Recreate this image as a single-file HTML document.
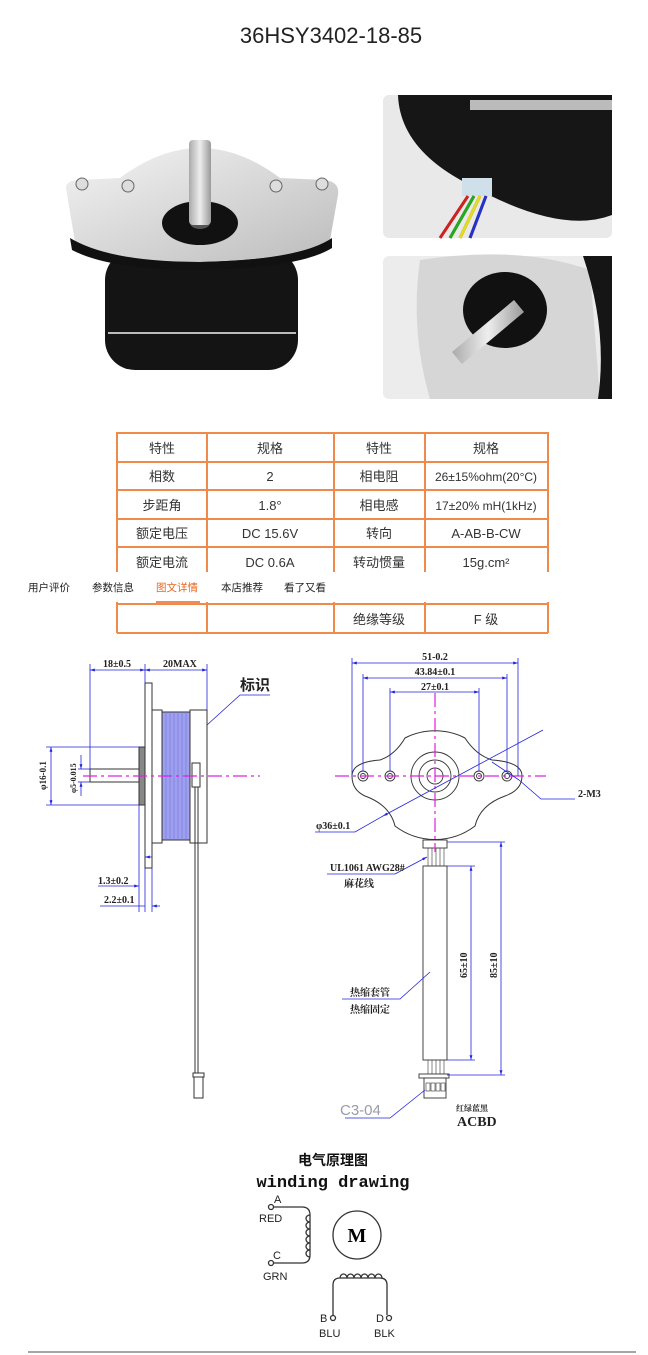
<!DOCTYPE html>
<html><head><meta charset="utf-8"><style>
html,body{margin:0;padding:0;background:#fff;}
svg{display:block;}
.cn{font-family:"Liberation Sans","Noto Sans CJK SC",sans-serif;}
.sf{font-family:"Liberation Serif","Noto Serif CJK SC",serif;}
</style></head><body>
<svg width="648" height="1355" viewBox="0 0 648 1355" xmlns="http://www.w3.org/2000/svg">
<defs>
<linearGradient id="al" x1="0" y1="0" x2="1" y2="1"><stop offset="0" stop-color="#f4f4f4"/><stop offset="0.5" stop-color="#d8d8d8"/><stop offset="1" stop-color="#bcbcbc"/></linearGradient>
<linearGradient id="sh" x1="0" x2="1"><stop offset="0" stop-color="#aaa"/><stop offset="0.5" stop-color="#eee"/><stop offset="1" stop-color="#999"/></linearGradient>
<marker id="ar" viewBox="0 0 10 10" refX="10" refY="5" markerWidth="6" markerHeight="6" orient="auto-start-reverse"><path d="M0,2 L10,5 L0,8z" fill="#2222dd"/></marker>
</defs>
<text x="331" y="43" text-anchor="middle" class="cn" font-size="22" fill="#222">36HSY3402-18-85</text>

<!-- main photo -->
<rect x="105" y="250" width="193" height="120" rx="30" fill="#141414"/>
<line x1="108" y1="333" x2="296" y2="333" stroke="#bbb" stroke-width="2"/>
<path d="M66,188 Q66,180 80,180 L120,178 Q200,118 280,178 L325,180 Q340,182 338,195 L330,240 Q300,260 200,262 Q110,262 75,242 Z" fill="url(#al)"/>
<path d="M70,238 Q110,262 200,262 Q300,260 332,238 L332,248 Q300,268 200,270 Q110,270 72,250 Z" fill="#111"/>
<ellipse cx="200" cy="223" rx="38" ry="22" fill="#111"/>
<ellipse cx="200" cy="223" rx="10" ry="6" fill="#555"/>
<rect x="189" y="140" width="22" height="85" rx="4" fill="url(#sh)"/>
<circle cx="82" cy="184" r="6" fill="#ddd" stroke="#666"/><circle cx="128" cy="186" r="6" fill="#ddd" stroke="#666"/>
<circle cx="276" cy="186" r="6" fill="#ddd" stroke="#666"/><circle cx="322" cy="184" r="6" fill="#ddd" stroke="#666"/>

<!-- side photos -->
<rect x="383" y="95" width="229" height="143" rx="6" fill="#e9e9e9"/>
<path d="M398,95 L612,95 L612,215 Q560,235 470,185 Q400,150 398,95Z" fill="#161616"/>
<path d="M470,100 L612,100 L612,110 L470,110Z" fill="#bbb"/>
<rect x="462" y="178" width="30" height="18" fill="#cfe0ea"/>
<path d="M468,196 L440,238 M474,196 L450,238 M480,196 L460,238 M486,196 L470,238" stroke-width="3" fill="none" stroke="#c22"/>
<path d="M474,196 L450,238" stroke="#2a2" stroke-width="3"/><path d="M480,196 L460,238" stroke="#dd2" stroke-width="3"/><path d="M486,196 L470,238" stroke="#23c" stroke-width="3"/>
<rect x="383" y="256" width="229" height="143" rx="6" fill="#ececec"/>
<path d="M420,260 Q520,245 590,270 L600,399 L430,399 Q410,330 420,260Z" fill="#d6d6d6"/>
<path d="M583,256 L612,256 L612,399 L598,399 Q608,330 583,256Z" fill="#151515"/>
<ellipse cx="505" cy="310" rx="42" ry="38" fill="#111"/>
<path d="M452,352 L514,300 L524,312 L462,364 Z" fill="url(#sh)"/>

<!-- table -->
<g stroke="#f08a4b" stroke-width="2" fill="none">
<rect x="117" y="433" width="431" height="144"/>
<line x1="117" y1="462" x2="548" y2="462"/><line x1="117" y1="490" x2="548" y2="490"/>
<line x1="117" y1="519" x2="548" y2="519"/><line x1="117" y1="547" x2="548" y2="547"/>
<line x1="207" y1="433" x2="207" y2="633"/><line x1="334" y1="433" x2="334" y2="633"/><line x1="425" y1="433" x2="425" y2="633"/>
<line x1="117" y1="577" x2="117" y2="633"/><line x1="548" y1="577" x2="548" y2="633"/>
<line x1="117" y1="604" x2="548" y2="604"/><line x1="117" y1="633" x2="548" y2="633"/>
</g>
<g class="cn" font-size="13" fill="#333" text-anchor="middle">
<text x="162" y="453">特性</text><text x="270" y="453">规格</text><text x="379" y="453">特性</text><text x="486" y="453">规格</text>
<text x="162" y="481">相数</text><text x="270" y="481">2</text><text x="379" y="481">相电阻</text><text x="486" y="481" font-size="12">26±15%ohm(20°C)</text>
<text x="162" y="510">步距角</text><text x="270" y="510">1.8°</text><text x="379" y="510">相电感</text><text x="486" y="510" font-size="12">17±20% mH(1kHz)</text>
<text x="162" y="538">额定电压</text><text x="270" y="538">DC 15.6V</text><text x="379" y="538">转向</text><text x="486" y="538">A-AB-B-CW</text>
<text x="162" y="567">额定电流</text><text x="270" y="567">DC 0.6A</text><text x="379" y="567">转动惯量</text><text x="486" y="567">15g.cm²</text>
<text x="379" y="624">绝缘等级</text><text x="486" y="624">F 级</text>
</g>
<rect x="0" y="572" width="648" height="30" fill="#fff"/>
<g class="cn" font-size="10.5" fill="#222">
<text x="28" y="591">用户评价</text><text x="92" y="591">参数信息</text><text x="156" y="591" fill="#e8651e">图文详情</text><text x="221" y="591">本店推荐</text><text x="284" y="591">看了又看</text>
</g>
<line x1="156" y1="602" x2="200" y2="602" stroke="#e8651e" stroke-width="1.5"/>

<!-- left drawing -->
<g stroke="#333" stroke-width="1" fill="#fff">
<rect x="145" y="683" width="7" height="185"/>
<rect x="139" y="747" width="6" height="58" fill="#888"/>
<rect x="90" y="769" width="49" height="13"/>
<rect x="152" y="710" width="10" height="133"/>
<rect x="162" y="712" width="28" height="128" fill="#9ea0ee"/>
<rect x="190" y="710" width="17" height="133"/>
<rect x="192" y="763" width="8" height="24"/>
<line x1="195" y1="787" x2="195" y2="1073"/><line x1="198" y1="787" x2="198" y2="1073"/>
<rect x="193" y="1073" width="11" height="4"/><rect x="194" y="1077" width="9" height="21"/>
</g>
<g stroke="#7373e0" stroke-width="0.6">
<line x1="166" y1="712" x2="166" y2="840"/><line x1="170" y1="712" x2="170" y2="840"/><line x1="174" y1="712" x2="174" y2="840"/><line x1="178" y1="712" x2="178" y2="840"/><line x1="182" y1="712" x2="182" y2="840"/><line x1="186" y1="712" x2="186" y2="840"/>
</g>
<line x1="83" y1="776" x2="260" y2="776" stroke="#e020e0" stroke-width="1.2" stroke-dasharray="14,4,3,4"/>
<g stroke="#2222dd" stroke-width="0.8" fill="none">
<line x1="90" y1="664" x2="90" y2="769"/><line x1="145" y1="664" x2="145" y2="683"/><line x1="207" y1="664" x2="207" y2="710"/>
<line x1="90" y1="670" x2="145" y2="670" marker-start="url(#ar)" marker-end="url(#ar)"/>
<line x1="145" y1="670" x2="207" y2="670" marker-start="url(#ar)" marker-end="url(#ar)"/>
<polyline points="207,725 240,695 270,695"/>
<line x1="46" y1="747" x2="139" y2="747"/><line x1="46" y1="805" x2="139" y2="805"/>
<line x1="51" y1="747" x2="51" y2="805" marker-start="url(#ar)" marker-end="url(#ar)"/>
<line x1="78" y1="769" x2="90" y2="769"/><line x1="78" y1="782" x2="90" y2="782"/>
<line x1="81" y1="755" x2="81" y2="769" marker-end="url(#ar)"/><line x1="81" y1="796" x2="81" y2="782" marker-end="url(#ar)"/>
<line x1="139" y1="805" x2="139" y2="912"/><line x1="145" y1="868" x2="145" y2="912"/><line x1="152" y1="868" x2="152" y2="912"/>
<line x1="98" y1="886" x2="139" y2="886" marker-end="url(#ar)"/><line x1="152" y1="857" x2="145" y2="857" marker-end="url(#ar)"/>
<line x1="100" y1="906" x2="145" y2="906"/><line x1="160" y1="906" x2="152" y2="906" marker-end="url(#ar)"/>
</g>
<g class="sf" font-size="10" fill="#222" font-weight="bold">
<text x="103" y="667">18±0.5</text><text x="163" y="667">20MAX</text>
<text x="98" y="884">1.3±0.2</text><text x="104" y="903">2.2±0.1</text>
<text transform="translate(46,790) rotate(-90)" font-size="9">φ16-0.1</text>
<text transform="translate(76,793) rotate(-90)" font-size="8">φ5-0.015</text>
</g>
<text x="240" y="690" class="cn" font-size="15" fill="#222" font-weight="bold">标识</text>

<!-- right drawing -->
<path d="M380,760 Q395,755 405,738 A66,66 0 0 1 465,738 Q476,755 492,760 Q522,762 522,776 Q522,790 505,796 Q480,805 475,826 A66,66 0 0 1 395,826 Q390,805 365,796 Q352,790 352,776 Q352,762 380,760Z" fill="#fff" stroke="#333" stroke-width="1"/>
<g fill="#fff" stroke="#333" stroke-width="0.9">
<circle cx="435" cy="776" r="24"/><circle cx="435" cy="776" r="16"/><circle cx="435" cy="776" r="8"/>
<circle cx="363" cy="776" r="5"/><circle cx="363" cy="776" r="2.5"/><circle cx="390" cy="776" r="5"/><circle cx="390" cy="776" r="2.5"/>
<circle cx="479" cy="776" r="5"/><circle cx="479" cy="776" r="2.5"/><circle cx="507" cy="776" r="5"/><circle cx="507" cy="776" r="2.5"/>
<rect x="423" y="840" width="24" height="8"/>
<rect x="423" y="866" width="24" height="194"/>
<rect x="419" y="1074" width="30" height="4"/><rect x="424" y="1078" width="22" height="20"/>
</g>
<g stroke="#333" stroke-width="0.6">
<line x1="428" y1="848" x2="428" y2="866"/><line x1="432" y1="848" x2="432" y2="866"/><line x1="436" y1="848" x2="436" y2="866"/><line x1="440" y1="848" x2="440" y2="866"/><line x1="444" y1="848" x2="444" y2="866"/>
<line x1="428" y1="1060" x2="428" y2="1074"/><line x1="432" y1="1060" x2="432" y2="1074"/><line x1="436" y1="1060" x2="436" y2="1074"/><line x1="440" y1="1060" x2="440" y2="1074"/><line x1="444" y1="1060" x2="444" y2="1074"/>
</g>
<g fill="none" stroke="#333" stroke-width="0.6"><rect x="426" y="1083" width="4" height="8"/><rect x="431" y="1083" width="4" height="8"/><rect x="436" y="1083" width="4" height="8"/><rect x="441" y="1083" width="4" height="8"/></g>
<g stroke="#e020e0" stroke-width="1.2" stroke-dasharray="14,4,3,4">
<line x1="335" y1="776" x2="546" y2="776"/><line x1="435" y1="693" x2="435" y2="852"/>
</g>
<g stroke="#2222dd" stroke-width="0.8" fill="none">
<line x1="352" y1="658" x2="352" y2="776"/><line x1="518" y1="658" x2="518" y2="776"/>
<line x1="363" y1="674" x2="363" y2="771"/><line x1="507" y1="674" x2="507" y2="771"/>
<line x1="390" y1="688" x2="390" y2="771"/><line x1="479" y1="688" x2="479" y2="771"/>
<line x1="352" y1="663" x2="518" y2="663" marker-start="url(#ar)" marker-end="url(#ar)"/>
<line x1="363" y1="678" x2="507" y2="678" marker-start="url(#ar)" marker-end="url(#ar)"/>
<line x1="390" y1="692" x2="479" y2="692" marker-start="url(#ar)" marker-end="url(#ar)"/>
<line x1="543" y1="730" x2="383" y2="816" marker-end="url(#ar)"/>
<polyline points="383,816 355,832 315,832"/>
<polyline points="492,762 519,780"/><polyline points="519,780 541,799 575,799"/>
<line x1="447" y1="842" x2="505" y2="842"/><line x1="447" y1="1075" x2="505" y2="1075"/>
<line x1="501" y1="842" x2="501" y2="1075" marker-start="url(#ar)" marker-end="url(#ar)"/>
<line x1="447" y1="866" x2="475" y2="866"/><line x1="447" y1="1060" x2="475" y2="1060"/>
<line x1="471" y1="866" x2="471" y2="1060" marker-start="url(#ar)" marker-end="url(#ar)"/>
<polyline points="327,874 395,874"/><line x1="395" y1="874" x2="427" y2="857" marker-end="url(#ar)"/>
<polyline points="342,999 400,999 430,972"/>
<polyline points="345,1118 390,1118 425,1090"/>
</g>
<g class="sf" font-size="10" fill="#222" font-weight="bold">
<text x="435" y="660" text-anchor="middle">51-0.2</text>
<text x="435" y="675" text-anchor="middle">43.84±0.1</text>
<text x="435" y="690" text-anchor="middle">27±0.1</text>
<text x="316" y="829">φ36±0.1</text>
<text x="578" y="797">2-M3</text>
<text x="330" y="871">UL1061 AWG28#</text>
<text x="344" y="887">麻花线</text>
<text x="350" y="996">热缩套管</text>
<text x="350" y="1013">热缩固定</text>
<text transform="translate(467,978) rotate(-90)">65±10</text>
<text transform="translate(497,978) rotate(-90)">85±10</text>
<text x="456" y="1111" font-size="8">红绿蓝黑</text>
<text x="457" y="1126" font-size="14">ACBD</text>
</g>
<text x="340" y="1115" class="cn" font-size="15" fill="#9a9aaa">C3-04</text>

<!-- winding -->
<text x="333" y="1165" text-anchor="middle" class="cn" font-size="14" font-weight="bold" fill="#111">电气原理图</text>
<text x="333" y="1187" text-anchor="middle" font-family="Liberation Mono,monospace" font-size="17" font-weight="bold" fill="#111">winding drawing</text>
<g fill="none" stroke="#333" stroke-width="1.3">
<circle cx="271" cy="1207" r="2.5"/><circle cx="271" cy="1263" r="2.5"/>
<path d="M274,1207 L302,1207 Q310,1207 310,1215 L310,1255 Q310,1263 302,1263 L274,1263"/>
<path d="M310,1215 a4,3.5 0 1 0 0,7 a4,3.5 0 1 0 0,7 a4,3.5 0 1 0 0,7 a4,3.5 0 1 0 0,7 a4,3.5 0 1 0 0,7 a4,3.5 0 1 0 0,7"/>
<circle cx="357" cy="1235" r="24"/>
<path d="M333,1315 L333,1285 Q333,1278 340,1278 L380,1278 Q387,1278 387,1285 L387,1315"/>
<path d="M340,1278 a3.5,4 0 1 1 7,0 a3.5,4 0 1 1 7,0 a3.5,4 0 1 1 7,0 a3.5,4 0 1 1 7,0 a3.5,4 0 1 1 7,0 a3.5,4 0 1 1 7,0"/>
<circle cx="333" cy="1318" r="2.5"/><circle cx="389" cy="1318" r="2.5"/>
</g>
<text x="357" y="1242" text-anchor="middle" class="sf" font-size="20" font-weight="bold">M</text>
<g class="cn" font-size="11" fill="#222">
<text x="274" y="1203">A</text><text x="259" y="1222">RED</text>
<text x="273" y="1259">C</text><text x="263" y="1280">GRN</text>
<text x="320" y="1322">B</text><text x="319" y="1337">BLU</text>
<text x="376" y="1322">D</text><text x="374" y="1337">BLK</text>
</g>
<line x1="28" y1="1352" x2="636" y2="1352" stroke="#888" stroke-width="1.5"/>
</svg>
</body></html>
